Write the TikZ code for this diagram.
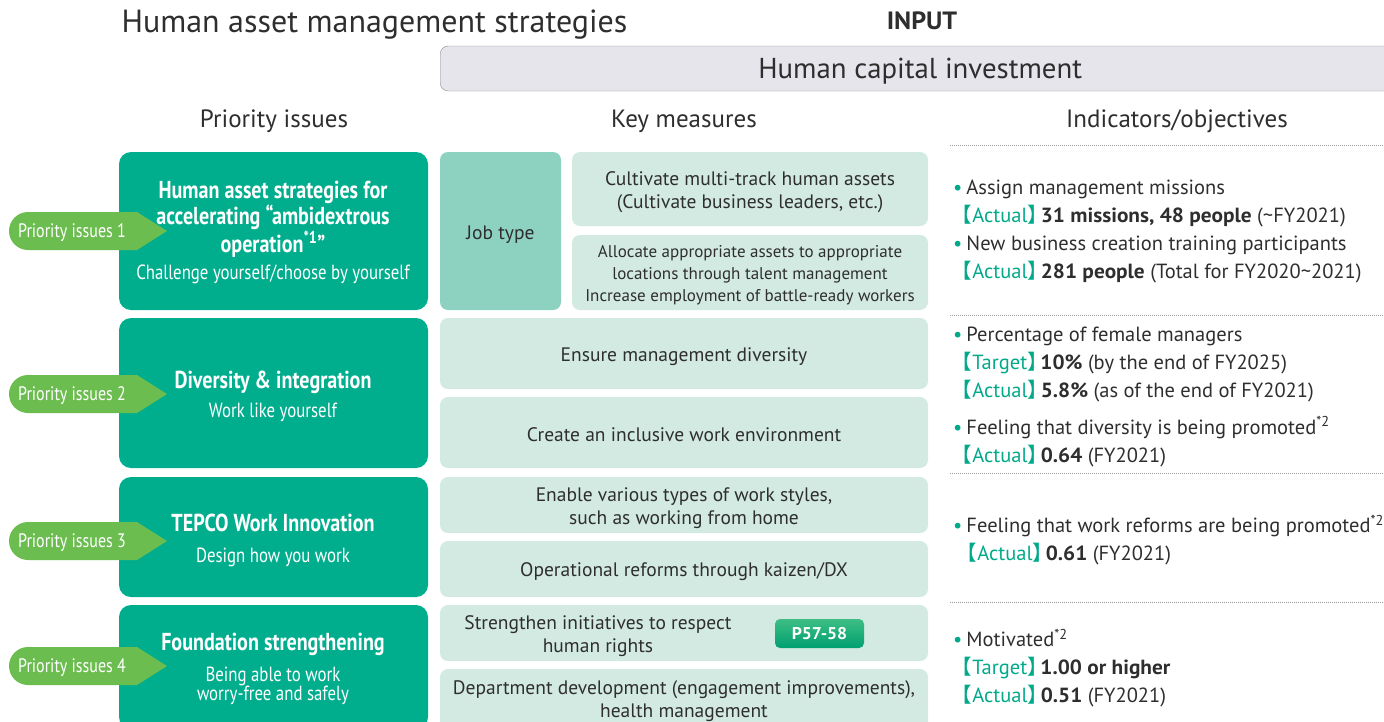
\documentclass[tikz,border=0pt]{standalone}
\usepackage{fontspec}
\setmainfont{PT Sans}[BoldFeatures={FakeStretch=1.04}]
\newfontfamily\condfont{PT Sans}[FakeStretch=0.82]
\newfontfamily\cjk{Noto Sans CJK JP}[RawFeature=+halt]
\definecolor{prio}{HTML}{00AE8E}
\definecolor{tagg}{HTML}{6CBD50}
\definecolor{jobc}{HTML}{8DD1C1}
\definecolor{meas}{HTML}{D3EAE3}
\definecolor{barfill}{HTML}{E5E5EB}
\definecolor{barline}{HTML}{8C8C92}
\definecolor{txt}{HTML}{2E2E2E}
\definecolor{accent}{HTML}{00A98A}
\definecolor{badgetop}{HTML}{3DBE84}
\definecolor{badgebot}{HTML}{00A070}
\definecolor{dotc}{HTML}{9A9A9A}
\newcommand{\setfs}[2]{\fontsize{#1}{#2}\selectfont}
\newcommand{\indbul}{{\color{accent}\textbullet}\hspace{4pt}}
\newcommand{\indact}{\hspace{9pt}{\color{accent}{\cjk 【}Actual{\cjk 】}}\hspace{3pt}}
\newcommand{\indtgt}{\hspace{9pt}{\color{accent}{\cjk 【}Target{\cjk 】}}\hspace{3pt}}
\tikzset{
  prio/.style={fill=prio, rounded corners=12pt, minimum width=309pt, inner sep=0pt},
  priotitle/.style={text=white, align=center, font=\condfont\bfseries\setfs{24.5}{26.5}},
  priosub/.style={text=white, align=center, font=\condfont\setfs{20.5}{19}},
  measbox/.style={fill=meas, rounded corners=8pt, inner sep=0pt},
  meastext/.style={text=txt, align=center, font=\setfs{19.5}{23}},
  colhead/.style={text=txt, font=\setfs{25}{27}},
  indic/.style={text=txt, align=left, anchor=west, inner sep=0pt, font=\setfs{20.5}{28}},
  tagtext/.style={text=white, font=\condfont\setfs{19.5}{20}},
  dotline/.style={dotc, densely dotted, line width=1pt}
}
\begin{document}
\begin{tikzpicture}[x=1pt,y=-1pt]
  \useasboundingbox (0,0) rectangle (1384,721);
  \clip (0,0) rectangle (1384,721);
  % headings
  \node[anchor=west, text=txt, font=\setfs{32}{34}] (title) at (118,25) {Human asset management strategies};
  \node[text=txt, font=\bfseries\setfs{25}{27}] (input) at (922,21) {INPUT};
  \node[draw=barline, fill=barfill, rounded corners=8pt, minimum width=960pt, minimum height=45pt,
        anchor=west] (invest) at (440,68.5) {};
  \node[text=txt, font=\setfs{28.8}{30}] (investt) at ([yshift=-3pt]invest.center) {Human capital investment};
  \node[colhead] (colprio) at (274,121) {Priority issues};
  \node[colhead] (colkey) at (684,121) {Key measures};
  \node[colhead] (colind) at (1177,121) {Indicators/objectives};
  % priority issues
  \node[prio, minimum height=158pt] (p1) at (273.5,231) {};
  \node[prio, minimum height=150pt] (p2) at (273.5,393) {};
  \node[prio, minimum height=120pt] (p3) at (273.5,537) {};
  \node[prio, minimum height=124pt] (p4) at (273.5,667) {};
  \node[priotitle] (p1t) at (273,219) {Human asset strategies for\\accelerating “ambidextrous\\operation\textsuperscript{*1}”};
  \node[priosub] (p1s) at (273,274) {Challenge yourself/choose by yourself};
  \node[priotitle] (p2t) at (273,382) {Diversity \& integration};
  \node[priosub] (p2s) at (273,412) {Work like yourself};
  \node[priotitle] (p3t) at (273,523) {TEPCO Work Innovation};
  \node[priosub] (p3s) at (273,557) {Design how you work};
  \node[priotitle] (p4t) at (273,644) {Foundation strengthening};
  \node[priosub] (p4s) at (273,686) {Being able to work\\worry-free and safely};
  % priority tags
  \foreach \n/\y in {1/231, 2/394, 3/541, 4/666} {
    \fill[tagg] (137,\y-19) -- (167,\y) -- (137,\y+19) -- (28,\y+19) arc (90:270:19) -- cycle;
    \node[tagtext] (tag\n) at (72,\y+2) {Priority issues \n};
  }
  % key measures
  \node[measbox, fill=jobc, minimum width=121pt, minimum height=158pt] (job) at (500.5,231) {};
  \node[meastext] (jobt) at ([yshift=-4pt]job.center) {Job type};
  \node[measbox, minimum width=356pt, minimum height=74pt] (m1) at (750,189) {};
  \node[meastext] (m1t) at ([yshift=-3pt]m1.center) {Cultivate multi-track human assets\\(Cultivate business leaders, etc.)};
  \node[measbox, minimum width=356pt, minimum height=75pt] (m2) at (750,272.5) {};
  \node[meastext, font=\setfs{17}{22}] (m2t) at ([yshift=-3pt]m2.center)
    {Allocate appropriate assets to appropriate\\locations through talent management\\Increase employment of battle-ready workers};
  \node[measbox, minimum width=488pt, minimum height=71pt] (m3) at (684,353.5) {};
  \node[meastext] (m3t) at ([yshift=-3pt]m3.center) {Ensure management diversity};
  \node[measbox, minimum width=488pt, minimum height=71pt] (m4) at (684,432.5) {};
  \node[meastext] (m4t) at ([yshift=-2pt]m4.center) {Create an inclusive work environment};
  \node[measbox, minimum width=488pt, minimum height=56pt] (m5) at (684,505) {};
  \node[meastext] (m5t) at ([yshift=-3pt]m5.center) {Enable various types of work styles,\\such as working from home};
  \node[measbox, minimum width=488pt, minimum height=56pt] (m6) at (684,569) {};
  \node[meastext] (m6t) at ([yshift=-3pt]m6.center) {Operational reforms through kaizen/DX};
  \node[measbox, minimum width=488pt, minimum height=56pt] (m7) at (684,633) {};
  \node[meastext] (m7t) at (598,636) {Strengthen initiatives to respect\\human rights};
  \node[rounded corners=5pt, top color=badgetop, bottom color=badgebot, minimum width=89pt, minimum height=29pt,
        text=white, font=\bfseries\setfs{17}{19}] (badge) at (819.5,633.5) {P57-58};
  \node[measbox, minimum width=488pt, minimum height=62pt] (m8) at (684,700) {};
  \node[meastext] (m8t) at ([yshift=-1pt]m8.center) {Department development (engagement improvements),\\health management};
  % indicators
  \foreach \y in {145,315,473,602}
    \draw[dotline] (950,\y) -- (1384,\y);
  \node[indic] (ind1) at (953,231) {\indbul Assign management missions\\
    \indact\textbf{31 missions, 48 people} (\textasciitilde FY2021)\\
    \indbul New business creation training participants\\
    \indact\textbf{281 people} (Total for FY2020\textasciitilde 2021)};
  \node[indic] (ind2) at (953,397) {\indbul Percentage of female managers\\
    \indtgt\textbf{10\%} (by the end of FY2025)\\
    \indact\textbf{5.8\%} (as of the end of FY2021)\\[9pt]
    \indbul Feeling that diversity is being promoted\textsuperscript{*2}\\
    \indact\textbf{0.64} (FY2021)};
  \node[indic] (ind3) at (953,540) {\indbul Feeling that work reforms are being promoted\textsuperscript{*2}\\
    \hspace{5pt}\indact\textbf{0.61} (FY2021)};
  \node[indic] (ind4) at (953,668) {\indbul Motivated\textsuperscript{*2}\\
    \indtgt\textbf{1.00 or higher}\\
    \indact\textbf{0.51} (FY2021)};
\end{tikzpicture}
\end{document}
